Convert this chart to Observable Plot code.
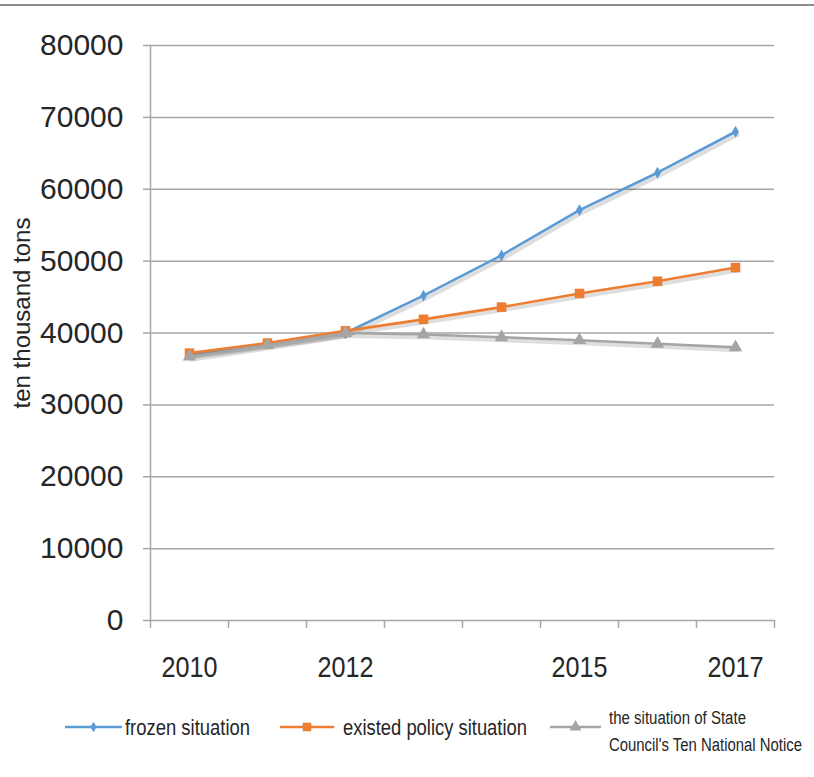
<!DOCTYPE html>
<html><head><meta charset="utf-8">
<script src="https://cdn.jsdelivr.net/npm/d3@7"></script>
<script src="https://cdn.jsdelivr.net/npm/@observablehq/plot@0.6"></script>
<style>
body{margin:0;background:#fff;width:814px;height:777px;position:relative;overflow:hidden;font-family:"Liberation Sans",Arial,sans-serif}
#topline{position:absolute;left:0;top:4px;width:814px;height:2px;background:#8c8c8c}
#chart{position:absolute;left:0;top:0}
#legend{position:absolute;left:0;top:0;width:814px;height:777px;pointer-events:none}
</style></head>
<body>
<div id="topline"></div>
<div id="chart"></div>
<svg id="legend" width="814" height="777"></svg>
<script>
const years = [2010, 2011, 2012, 2013, 2014, 2015, 2016, 2017];
const labelYears = [2010, 2012, 2015, 2017];
const yTicks = [0, 10000, 20000, 30000, 40000, 50000, 60000, 70000, 80000];
const frozen = [37000, 38500, 40000, 45200, 50800, 57100, 62300, 68000];
const existed = [37200, 38600, 40300, 41900, 43600, 45500, 47200, 49100];
const stateCouncil = [36700, 38300, 40000, 39800, 39400, 39000, 38500, 38000];
const seriesNames = ["frozen situation", "existed policy situation", "the situation of State Council's Ten National Notice"];
const colors = ["#5b9bd5", "#ed7d31", "#a5a5a5"];
const symbols = ["diamond", "square", "triangle"];
const radii = [3.6, 5.4, 5];
const yLabel = "ten thousand tons";

const seriesValues = [frozen, existed, stateCouncil];
const series = seriesValues.map((vals, i) => vals.map((v, j) => ({year: years[j], value: v, series: seriesNames[i]})));
const boundaries = years.map(y => y - 0.5).concat([years[years.length - 1] + 0.5]);
const gridColor = "#a6a6a6";

const marks = [
  Plot.gridY(yTicks, {stroke: gridColor, strokeOpacity: 1, strokeWidth: 1.5}),
  Plot.ruleX([boundaries[0]], {stroke: gridColor, strokeWidth: 1.5}),
  Plot.axisX(boundaries, {tickSize: 8, tickFormat: () => "", stroke: gridColor, strokeWidth: 1.5, label: null}),
  Plot.axisX(labelYears, {tickSize: 0, tickPadding: 35, fontSize: 30, fill: "#262626", tickFormat: d => String(d), label: null}),
  Plot.axisY(yTicks, {tickSize: 7, tickPadding: 20, fontSize: 30, fill: "#262626", stroke: gridColor, strokeWidth: 1.5, tickFormat: d => String(d), label: null}),
  Plot.text([yLabel], {frameAnchor: "left", textAnchor: "middle", rotate: -90, dx: -128, dy: -20, fontSize: 24, fill: "#262626", text: d => d})
];
series.forEach((data, i) => {
  marks.push(Plot.line(data, {x: "year", y: "value", stroke: "#000", strokeOpacity: 0.13, strokeWidth: 4, dx: 2, dy: 3}));
  marks.push(Plot.line(data, {x: "year", y: "value", stroke: colors[i], strokeWidth: 2.6}));
  marks.push(Plot.dot(data, {x: "year", y: "value", symbol: () => symbols[i], fill: colors[i], r: radii[i], stroke: "none"}));
});

const chart = Plot.plot({
  width: 814,
  height: 690,
  marginLeft: 150,
  marginRight: 40,
  marginTop: 45,
  marginBottom: 70,
  style: {fontFamily: "'Liberation Sans',Arial,sans-serif", background: "transparent", overflow: "visible"},
  x: {type: "linear", domain: [boundaries[0], boundaries[boundaries.length - 1]]},
  y: {domain: [0, 80000]},
  symbol: {type: "identity"},
  marks
});
document.getElementById("chart").appendChild(chart);
const yearStrings = labelYears.map(String);
d3.select(chart).selectAll("text")
  .filter(function () { return yearStrings.includes(this.textContent.trim()); })
  .attr("textLength", 56).attr("lengthAdjust", "spacingAndGlyphs");

// legend
const lg = d3.select("#legend");
const items = [
  {x0: 65, x1: 122, y: 727, tx: 125, lines: [seriesNames[0]], widths: [125], fs: 22},
  {x0: 280, x1: 334, y: 727, tx: 343, lines: [seriesNames[1]], widths: [184], fs: 22},
  {x0: 550, x1: 601, y: 727, tx: 609, lines: ["the situation of State", "Council's Ten National Notice"], widths: [137, 193], fs: 18}
];
items.forEach((it, i) => {
  lg.append("line").attr("x1", it.x0).attr("x2", it.x1).attr("y1", it.y).attr("y2", it.y)
    .attr("stroke", colors[i]).attr("stroke-width", 2.6);
  const d3sym = [d3.symbolDiamond, d3.symbolSquare, d3.symbolTriangle][i];
  lg.append("path").attr("d", d3.symbol(d3sym, Math.PI * radii[i] * radii[i] * 0.8)())
    .attr("transform", `translate(${(it.x0 + it.x1) / 2},${it.y})`).attr("fill", colors[i]);
  it.lines.forEach((t, k) => {
    const y = it.lines.length === 1 ? it.y + 8 : 724 + k * 27;
    lg.append("text").attr("x", it.tx).attr("y", y)
      .attr("font-size", it.fs).attr("fill", "#262626")
      .attr("textLength", it.widths[k]).attr("lengthAdjust", "spacingAndGlyphs").text(t);
  });
});
</script>
</body></html>
